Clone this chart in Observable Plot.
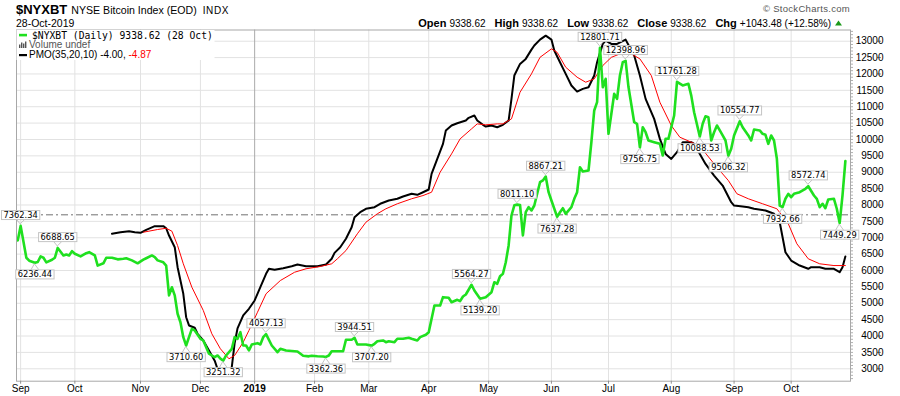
<!DOCTYPE html>
<html><head><meta charset="utf-8">
<script src="https://cdn.jsdelivr.net/npm/d3@7"></script>
<script src="https://cdn.jsdelivr.net/npm/@observablehq/plot@0.6"></script>
<style>
html,body{margin:0;padding:0;background:#fff;}
#chart{position:relative;width:900px;height:396px;overflow:hidden;}
</style></head><body><div id="chart"></div>
<script>
// Trading sessions counted from Fri 31-Aug-2018 (= 0) to Mon 28-Oct-2019 (= 290)
const priceSession = [0,1,3,4,6,7,8,9,10,12,13,14,16,17,18,19,20,22,24,25,27,28,30,31,33,35,37,38,40,42,44,45,47,48,49,51,52,53,54,55,56,57,58,59,60,61,62,64,65,67,68,69,70,71,72,73,75,76,77,78,79,80,81,82,84,85,86,87,89,91,92,94,98,100,102,103,105,107,108,109,110,112,114,115,117,118,119,121,122,124,125,126,128,129,130,132,133,135,137,138,140,141,143,144,146,148,149,151,152,154,155,156,157,159,160,162,164,166,167,168,169,170,171,172,173,174,175,176,177,178,179,180,181,182,183,184,185,186,187,189,190,191,192,194,195,196,197,198,200,201,202,203,204,205,206,207,208,209,210,211,212,213,214,216,217,218,219,220,221,223,225,226,227,228,230,231,233,235,236,237,239,240,241,242,243,244,245,246,247,248,249,250,251,253,254,256,257,258,260,261,262,263,264,265,266,267,268,269,270,271,272,274,276,277,279,280,281,282,283,284,286,287,288,289,290];
const priceClose = [6920,7362.34,6390,6300,6236.44,6260,6430,6390,6250,6330,6390,6688.65,6460,6490,6460,6590,6510,6430,6530,6560,6460,6150,6220,6390,6390,6340,6360,6375,6310,6220,6330,6375,6460,6410,6310,6250,6150,5240,5490,5240,4680,4420,3965,3710.60,3965,4220,4170,3915,3865,3460,3405,3355,3406,3310,3251.32,3406,3610,3965,3916,4117,3711,3711,3559,3742,3782,3742,3965,4057.13,3711,3507,3610,3559,3528,3400,3380,3400,3385,3375,3362.36,3406,3537,3537,3537,3885,3885,3944.51,3742,3742,3742,3707.20,3763,3842,3864,3812,3842,3812,3916,3916,3946,3916,3864,3965,4038,4117,4932,4932,5186,5167,5033,5106,5064,5207,5268,5564.27,5390,5139.20,5186,5339,5643,5595,5827,5900,6254,6764,7680,7990,8011.10,8000,7070,7780,7933,7832,7985,8342,8696,8748,8867.21,8391,8137,7637.28,7780,7902,7731,7933,8189,8391,9154,9023,9053,9917,10885,11138,12801.71,11595,11852,10173,10784,11395,11242,11953,12359,12398.96,11600,10527,10479,9756.75,10375,10222,9969,9917,9868,9511,10020,10020,10732,11761.28,11650,11700,11338,10830,10088.53,10479,10710,10680,9969,10222,10427,10275,10122,9969,9506.32,9716,10122,10554.77,10375,10122,9969,10305,10275,10173,10143,9868,10122,9969,9410,7980,7932.66,8190,8342,8238,8342,8391,8495,8572.74,8290,8189,7933,8037,7902,8168,8189,7885,7449.29,8295.14,9338.62];

// PMO(35,20,10) line and its 10-period signal, in PMO units
const pmoSession = [33,36,39,41,43,45,48,51,52,53,55,56,58,59,60,62,63,65,67,69,70,72,74,75,76,77,79,81,83,85,87,88,90,93,96,98,101,105,108,110,111,113,115,117,118,120,122,125,127,130,133,135,138,140,142,144,145,147,149,150,152,154,157,158,160,161,163,164,166,168,170,172,173,174,176,178,180,181,183,185,187,188,190,192,194,196,198,200,202,203,205,206,208,210,213,214,216,218,220,223,225,227,229,231,233,236,237,239,241,244,247,250,251,254,256,258,262,265,267,268,269,271,274,277,278,281,283,286,288,289,290];
const pmoValue = [-1.82,-1.67,-1.57,-1.67,-1.73,-1.44,-1.09,-1.09,-1.29,-1.99,-3.11,-5.03,-7.58,-9.83,-10.62,-10.84,-11.42,-12.06,-13.02,-14.0,-14.8,-15.2,-15.1,-14.6,-12.3,-10.9,-9.66,-9.02,-8.22,-6.95,-5.66,-5.18,-5.28,-5.12,-4.93,-4.77,-4.93,-4.93,-4.77,-4.22,-3.65,-3.11,-2.30,-1.19,-0.23,0.25,0.58,0.73,1.06,1.37,1.54,1.76,2.02,1.92,2.17,2.43,3.93,5.37,6.81,8.09,8.57,8.79,9.05,9.31,9.53,9.05,8.64,8.47,8.57,8.41,8.64,9.05,11.13,13.37,14.49,14.97,15.86,16.25,16.82,17.2,16.82,15.77,14.65,13.53,12.41,11.83,12.09,12.25,13.37,14.65,16.41,16.73,16.41,16.41,16.82,16.31,15.29,13.37,11.13,9.21,7.29,5.85,5.37,6.01,6.97,6.97,6.81,5.85,4.89,3.77,2.81,1.21,0.89,0.80,0.73,0.58,0.41,0.10,-0.71,-2.15,-3.59,-4.39,-4.87,-5.18,-5.03,-5.03,-5.18,-5.18,-5.51,-5.03,-4.00];
const signalSession = [44,49,52,54,56,58,61,65,68,71,74,76,79,81,84,87,92,97,101,106,110,112,115,119,122,126,129,133,138,142,145,148,152,155,159,161,164,168,170,173,176,180,183,187,189,192,196,199,202,205,208,211,215,218,222,225,229,232,236,239,244,249,252,256,261,266,270,273,277,281,286,290];
const signalValue = [-1.67,-1.41,-1.29,-1.57,-2.95,-4.70,-6.95,-9.18,-11.42,-12.86,-13.82,-13.5,-12.23,-11.1,-9.35,-7.58,-6.31,-5.51,-5.18,-4.96,-4.70,-4.22,-3.43,-1.82,-0.71,0.10,0.58,1.06,1.54,1.85,2.17,4.09,5.85,7.29,8.25,8.73,8.64,8.73,8.73,9.21,11.77,13.53,15.12,15.93,15.6,14.17,13.21,12.73,13.05,14.33,15.12,15.45,15.45,14.97,13.37,10.81,8.57,7.45,6.97,6.6,4.89,3.29,2.02,1.54,1.06,0.58,-0.86,-2.78,-4.22,-4.70,-4.87,-4.87];

// annotated swing points (session, side of the label)
const annSession = [1,6,14,59,72,87,108,118,124,159,162,175,185,189,204,213,218,231,239,249,253,268,277,288];
const annSide = ["above","below","above","below","below","above","below","above","below","above","below","above","above","below","above","above","below","above","below","below","above","below","above","below"];

const monthTickSession = [1,20,43,64,83,104,123,144,165,187,207,229,251,271];
const monthTickLabel = ["Sep","Oct","Nov","Dec","2019","Feb","Mar","Apr","May","Jun","Jul","Aug","Sep","Oct"];
const priceTicks = [3000,3500,4000,4500,5000,5500,6000,6500,7000,7500,8000,8500,9000,9500,10000,10500,11000,11500,12000,12500,13000];
const minorTicks = d3.range(2700, 13400, 100);

// the PMO overlay has its own hidden scale: where its zero sits on the price axis, and price units per PMO unit
const PMO_ZERO_PRICE = 7700, PRICE_PER_PMO = 318;

const price = priceSession.map((s, i) => ({s, v: priceClose[i]}));
const pmo = pmoSession.map((s, i) => ({s, v: PMO_ZERO_PRICE + PRICE_PER_PMO * pmoValue[i]}));
const signal = signalSession.map((s, i) => ({s, v: PMO_ZERO_PRICE + PRICE_PER_PMO * signalValue[i]}));
const ann = annSession.map((s, i) => ({s, v: priceClose[priceSession.indexOf(s)], side: annSide[i]}));

const annFont = "'DejaVu Sans', Verdana, sans-serif";
const chart = Plot.plot({
  width: 900, height: 396,
  marginLeft: 16, marginRight: 50, marginTop: 29.5, marginBottom: 15.3,
  x: {type: "linear", domain: [-0.45, 291.8], label: null},
  y: {type: "linear", domain: [2621, 13342], label: null},
  style: {background: "#fff", fontFamily: "'Liberation Sans', Arial, sans-serif", fontSize: "10px", color: "#000"},
  marks: [
    Plot.ruleY(priceTicks, {stroke: "#e2e2e2", strokeWidth: 1}),
    Plot.ruleX(monthTickSession.filter(d => d !== 83), {stroke: "#e2e2e2", strokeWidth: 1}),
    Plot.ruleX(monthTickSession.filter(d => d === 83), {stroke: "#ababab", strokeWidth: 1}),
    Plot.ruleY([PMO_ZERO_PRICE], {stroke: "#707070", strokeWidth: 1, strokeDasharray: "7,3,2,3"}),
    Plot.line(pmo, {x: "s", y: "v", stroke: "#000", strokeWidth: 2}),
    Plot.line(signal, {x: "s", y: "v", stroke: "#ff0000", strokeWidth: 1}),
    Plot.line(price, {x: "s", y: "v", stroke: "#1fe01f", strokeWidth: 2.6}),
    Plot.frame({stroke: "#a8a8a8"}),
    Plot.axisY(minorTicks, {anchor: "right", tickSize: 2, stroke: "#b0b0b0", tickFormat: () => "", label: null}),
    Plot.axisY(priceTicks, {anchor: "right", tickSize: 4, tickPadding: 3, stroke: "#909090", textAnchor: "end", dx: 26,
      fontSize: 10, tickFormat: d => String(d), label: null}),
    Plot.axisX(monthTickSession, {anchor: "bottom", tickSize: 3, tickPadding: 1, stroke: "#909090", fontSize: 10,
      tickFormat: d => monthTickLabel[monthTickSession.indexOf(d)], label: null}),
    Plot.text(ann.filter(d => d.side === "above"), {x: "s", y: "v", text: d => d.v.toFixed(2), dy: -10.5,
      fontSize: 8.3, fontFamily: annFont, fill: "#000", className: "annlab"}),
    Plot.text(ann.filter(d => d.side === "below"), {x: "s", y: "v", text: d => d.v.toFixed(2), dy: 12,
      fontSize: 8.3, fontFamily: annFont, fill: "#000", className: "annlab"})
  ]
});
document.getElementById("chart").appendChild(chart);

// ---- decorations: label boxes, header, legend ----
const svg = d3.select(chart);
const sx = chart.scale("x"), sy = chart.scale("y");
const svgRect = chart.getBoundingClientRect();
svg.selectAll("g[aria-label='x-axis tick label'] text").filter(function() { return this.textContent === "2019"; })
  .attr("font-weight", "bold");

const boxLayer = svg.insert("g", "g.annlab");
svg.selectAll("g.annlab").each(function() {
  d3.select(this).selectAll("text").each(function() {
    const r = this.getBoundingClientRect();
    const x0 = r.left - svgRect.left - 2, x1 = r.right - svgRect.left + 2;
    const y0 = r.top - svgRect.top + 0.5, y1 = r.bottom - svgRect.top - 0.5;
    const a = ann.find(q => q.v.toFixed(2) === this.textContent);
    const px = sx.apply(a.s), py = sy.apply(a.v);
    const cx = (x0 + x1) / 2;
    const edge = a.side === "above" ? y1 : y0;
    const tip = a.side === "above" ? py - 1.5 : py + 1.5;
    boxLayer.append("path").attr("d", `M${cx - 4},${edge}L${px},${tip}L${cx + 4},${edge}`)
      .attr("fill", "none").attr("stroke", "#c4c4c4");
    boxLayer.append("rect").attr("x", x0).attr("y", y0).attr("width", x1 - x0).attr("height", y1 - y0)
      .attr("fill", "#fff").attr("stroke", "#c4c4c4");
  });
});

const hdr = svg.append("g").attr("font-family", "'Liberation Sans', Arial, sans-serif").attr("text-anchor", "start");
const title = hdr.append("text").attr("x", 16).attr("y", 14);
title.append("tspan").attr("font-size", 13).attr("font-weight", "bold").text("$NYXBT");
title.append("tspan").attr("dx", 4).attr("font-size", 10.6).text("NYSE Bitcoin Index (EOD)");
title.append("tspan").attr("dx", 6).attr("font-size", 10).attr("letter-spacing", 0.6).text("INDX");
hdr.append("text").attr("x", 16).attr("y", 26.5).attr("font-size", 10.5).text("28-Oct-2019");
hdr.append("text").attr("x", 850).attr("y", 12).attr("text-anchor", "end").attr("font-size", 9.5)
  .attr("fill", "#555").attr("letter-spacing", 0.3).text("\u00a9 StockCharts.com");
const ohlc = hdr.append("text").attr("x", 831).attr("y", 26.5).attr("text-anchor", "end").attr("font-size", 10);
[["Open", "9338.62"], ["High", "9338.62"], ["Low", "9338.62"], ["Close", "9338.62"], ["Chg", "+1043.48 (+12.58%)"]].forEach(([k, v], i) => {
  ohlc.append("tspan").attr("dx", i ? 9 : 0).attr("font-weight", "bold").attr("font-size", 11).text(k);
  ohlc.append("tspan").attr("dx", 3).text(v);
});
hdr.append("path").attr("d", "M835,25.5L838.5,20.5L842,25.5Z").attr("fill", "#1a9a1a");

const lg = svg.append("g").attr("font-family", "'Liberation Sans', Arial, sans-serif").attr("text-anchor", "start");
lg.append("rect").attr("x", 16.5).attr("y", 30).attr("width", 198).attr("height", 30).attr("fill", "#fff");
lg.append("rect").attr("x", 19).attr("y", 33.8).attr("width", 8).attr("height", 2.6).attr("fill", "#1fe01f");
lg.append("text").attr("x", 32).attr("y", 38.6).attr("font-size", 9.7).attr("font-family", "'DejaVu Sans Mono', monospace")
  .text("$NYXBT (Daily) 9338.62 (28 Oct)");
[[19, 44.5, 3.5], [21, 42.5, 5.5], [23, 43.5, 4.5], [25, 41.5, 6.5]].forEach(([x, y, h]) =>
  lg.append("rect").attr("x", x).attr("y", y).attr("width", 1.4).attr("height", h).attr("fill", "#555"));
lg.append("text").attr("x", 29).attr("y", 48.3).attr("font-size", 10).attr("fill", "#555").text("Volume undef");
lg.append("rect").attr("x", 19).attr("y", 54).attr("width", 8).attr("height", 2.2).attr("fill", "#000");
const pl = lg.append("text").attr("x", 29).attr("y", 58.3).attr("font-size", 10);
pl.append("tspan").text("PMO(35,20,10) -4.00, ");
pl.append("tspan").attr("fill", "#ff0000").text("-4.87");
</script></body></html>
